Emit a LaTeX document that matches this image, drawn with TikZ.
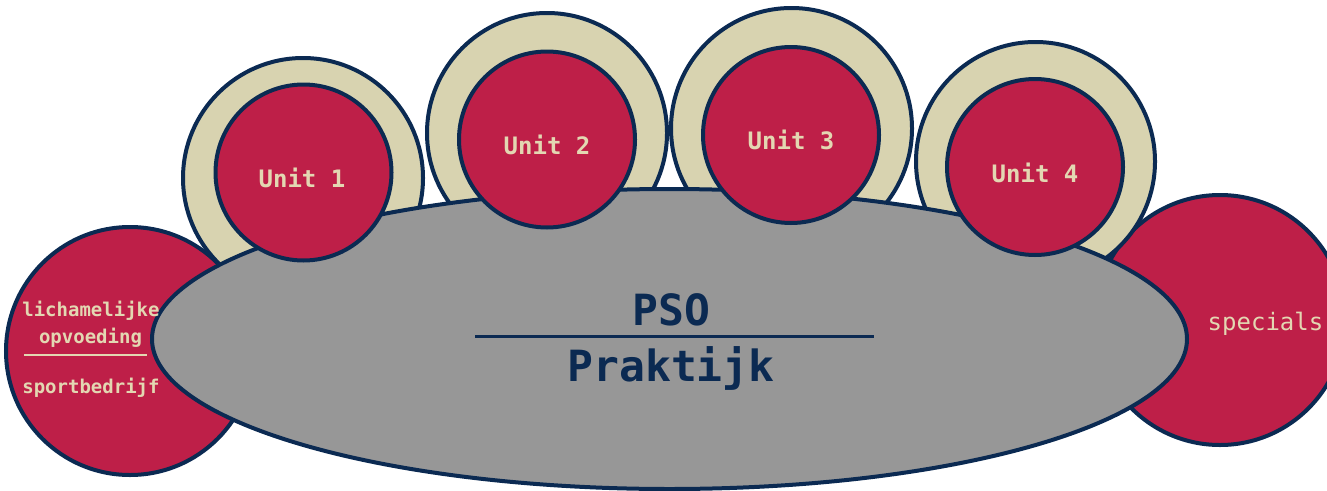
\documentclass[tikz,border=0pt]{standalone}
\usepackage{fontspec}
\setmainfont{DejaVu Sans Mono}
\definecolor{navy}{HTML}{0B2A52}
\definecolor{ured}{HTML}{BE1F48}
\definecolor{beige}{HTML}{D8D3B0}
\definecolor{txtbeige}{HTML}{E3D7B2}
\definecolor{pgray}{HTML}{979797}
\tikzset{
  ringc/.style={draw=navy,line width=4pt,fill=beige,circle,inner sep=0pt,minimum size=#1},
  redc/.style={draw=navy,line width=4pt,fill=ured,circle,inner sep=0pt,minimum size=#1},
  unitlbl/.style={text=txtbeige,font=\bfseries\fontsize{24}{28}\selectfont,anchor=base},
  sidelbl/.style={text=txtbeige,font=\bfseries\fontsize{19}{22}\selectfont,anchor=base},
  psolbl/.style={text=navy,font=\bfseries\fontsize{43}{50}\selectfont,anchor=base},
}
\begin{document}
\begin{tikzpicture}[x=1pt,y=-1pt]
\useasboundingbox (0,0) rectangle (1327,490);
\clip (0,0) rectangle (1327,490);
% side circles
\node[redc=248pt] (left) at (130,351) {};
\node[redc=250pt] (right) at (1220,320) {};
% outer rings
\node[ringc=240pt] (r1) at (303,178) {};
\node[ringc=240pt] (r2) at (547,133) {};
\node[ringc=241pt] (r3) at (791.5,128.5) {};
\node[ringc=239pt] (r4) at (1035.5,161.5) {};
% central ellipse
\draw[navy,line width=4pt,fill=pgray] (669.5,339) ellipse [x radius=517.5,y radius=150];
\coordinate (pso) at (669.5,339);
% inner circles
\node[redc=176pt] (u1) at (303.5,172.5) {};
\node[redc=176pt] (u2) at (547,139.5) {};
\node[redc=176pt] (u3) at (791,135) {};
\node[redc=176pt] (u4) at (1035,167) {};
% labels
\node[unitlbl] (t1) at (302,187) {Unit 1};
\node[unitlbl] (t2) at (547,154.3) {Unit 2};
\node[unitlbl] (t3) at (791,149.3) {Unit 3};
\node[unitlbl] (t4) at (1035,182.7) {Unit 4};
\node[psolbl] (tpso) at (671.5,325) {PSO};
\node[psolbl] (tprak) at (671,381.7) {Praktijk};
\coordinate (pl1) at (475,336.7);
\coordinate (pl2) at (874,336.7);
\draw[navy,line width=2.5pt] (pl1) -- (pl2);
\node[sidelbl] (l1) at (91,316.7) {lichamelijke};
\node[sidelbl] (l2) at (90.5,343) {opvoeding};
\node[sidelbl] (l3) at (91,393) {sportbedrijf};
\coordinate (ll1) at (24,354.5);
\coordinate (ll2) at (147,354.5);
\draw[txtbeige,line width=2pt] (ll1) -- (ll2);
\node[text=txtbeige,font=\fontsize{24}{28}\selectfont,anchor=base] (sp) at (1265.5,330) {specials};
\end{tikzpicture}
\end{document}
